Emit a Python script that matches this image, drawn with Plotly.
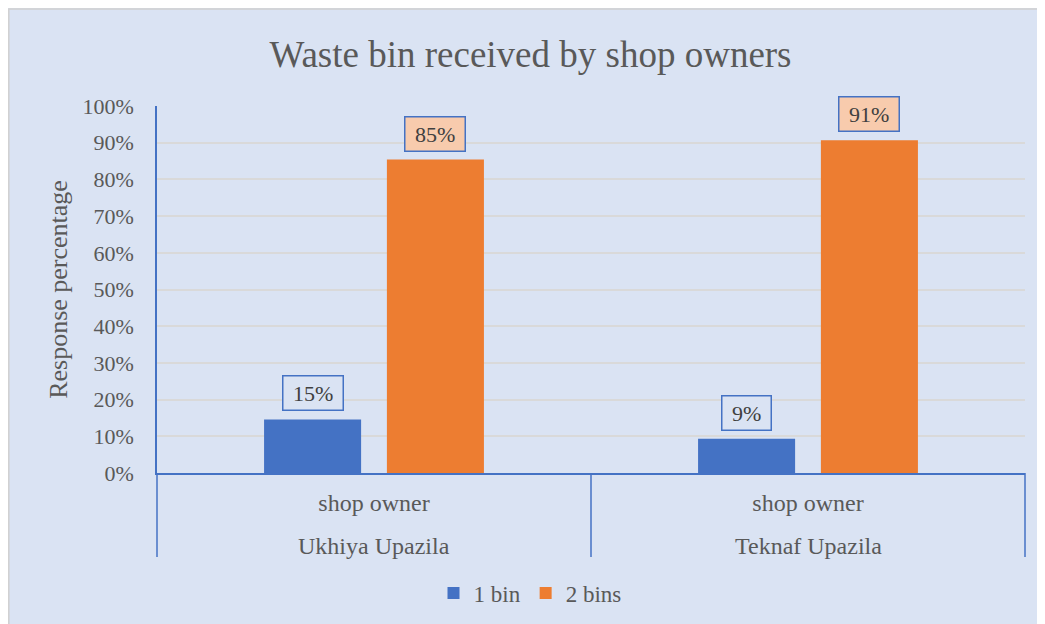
import plotly.graph_objects as go

regions = ["Ukhiya Upazila", "Teknaf Upazila"]
groups = ["shop owner", "shop owner"]
series_names = ["1 bin", "2 bins"]
one_bin = [0.146, 0.093]
two_bins = [0.854, 0.907]
colors = ["#4472C4", "#ED7D31"]
label_fills = ["#DAE3F3", "#F8CBAD"]

FONT = "Liberation Serif, Times New Roman, serif"
TXT = "#595959"
BG = "#DAE3F3"
AX = "#4472C4"
W, H = 1045, 624
ML, MR, MT, MB = 149, 28, 98, 159
PW, PH = W - ML - MR, H - MT - MB
bargap = 0.434
bargroupgap = 0.21

fig = go.Figure()
for name, vals, col in zip(series_names, [one_bin, two_bins], colors):
    fig.add_trace(go.Bar(x=regions, y=vals, name=name,
                         marker=dict(color=col, line=dict(width=0))))

slot = (1 - bargap) / 2
for si, vals in enumerate([one_bin, two_bins]):
    off = (si - 0.5) * slot
    for ci, v in enumerate(vals):
        fig.add_annotation(x=ci + off, y=v, xref="x", yref="y",
                           text=" " + f"{v:.0%}" + " ", showarrow=False,
                           yanchor="bottom", yshift=8,
                           font=dict(family=FONT, size=22, color="#404040"),
                           bgcolor=label_fills[si], bordercolor=AX,
                           borderwidth=1.5, borderpad=4)

# outer category labels
for r in regions:
    fig.add_annotation(x=r, xref="x", y=-73 / PH, yref="paper", yanchor="middle",
                       text=r, showarrow=False,
                       font=dict(family=FONT, size=24, color=TXT))

# category dividers
for xp in [0, 0.5, 1]:
    fig.add_shape(type="line", xref="paper", yref="paper", x0=xp, x1=xp,
                  y0=0, y1=-84 / PH, line=dict(color=AX, width=1.5))

# chart border (light gray)
fig.add_shape(type="rect", xref="paper", yref="paper", layer="below",
              x0=(0.8 - ML) / PW, x1=(W + 10 - ML) / PW,
              y0=(PH - (H - MT) - 10) / PH, y1=(PH + MT - 1) / PH,
              fillcolor="rgba(0,0,0,0)", line=dict(color="#D0D0D0", width=1.5))

fig.update_layout(
    width=W, height=H,
    margin=dict(l=ML, r=MR, t=MT, b=MB),
    paper_bgcolor=BG, plot_bgcolor=BG,
    bargap=bargap, bargroupgap=bargroupgap,
    font=dict(family=FONT, size=22, color=TXT),
    title=dict(text="Waste bin received by shop owners", x=0.5, xanchor="center",
               y=1 - 46 / H, yanchor="middle", xref="container", yref="container",
               font=dict(family=FONT, size=37, color=TXT)),
    legend=dict(orientation="h", x=(522 - ML) / PW, xanchor="center",
                y=-(585 - MT - PH) / PH, yanchor="middle",
                font=dict(family=FONT, size=23, color=TXT), bgcolor="rgba(0,0,0,0)",
                traceorder="normal"),
    showlegend=True,
)
fig.update_xaxes(type="category", tickvals=regions, ticktext=groups,
                 showline=True, linecolor=AX, linewidth=1.5, ticks="",
                 ticklabelstandoff=7,
                 tickfont=dict(family=FONT, size=24, color=TXT), showgrid=False)
fig.update_yaxes(range=[0, 1], dtick=0.1, tickformat=".0%", showgrid=True,
                 gridcolor="#D9D9D9", gridwidth=1.5, showline=True, linecolor=AX,
                 linewidth=1.5, zeroline=False, ticks="", ticklabelstandoff=17,
                 tickfont=dict(family=FONT, size=22, color=TXT),
                 title=dict(text="Response percentage", standoff=7,
                            font=dict(family=FONT, size=26, color=TXT)))

fig.write_html("out.html")
